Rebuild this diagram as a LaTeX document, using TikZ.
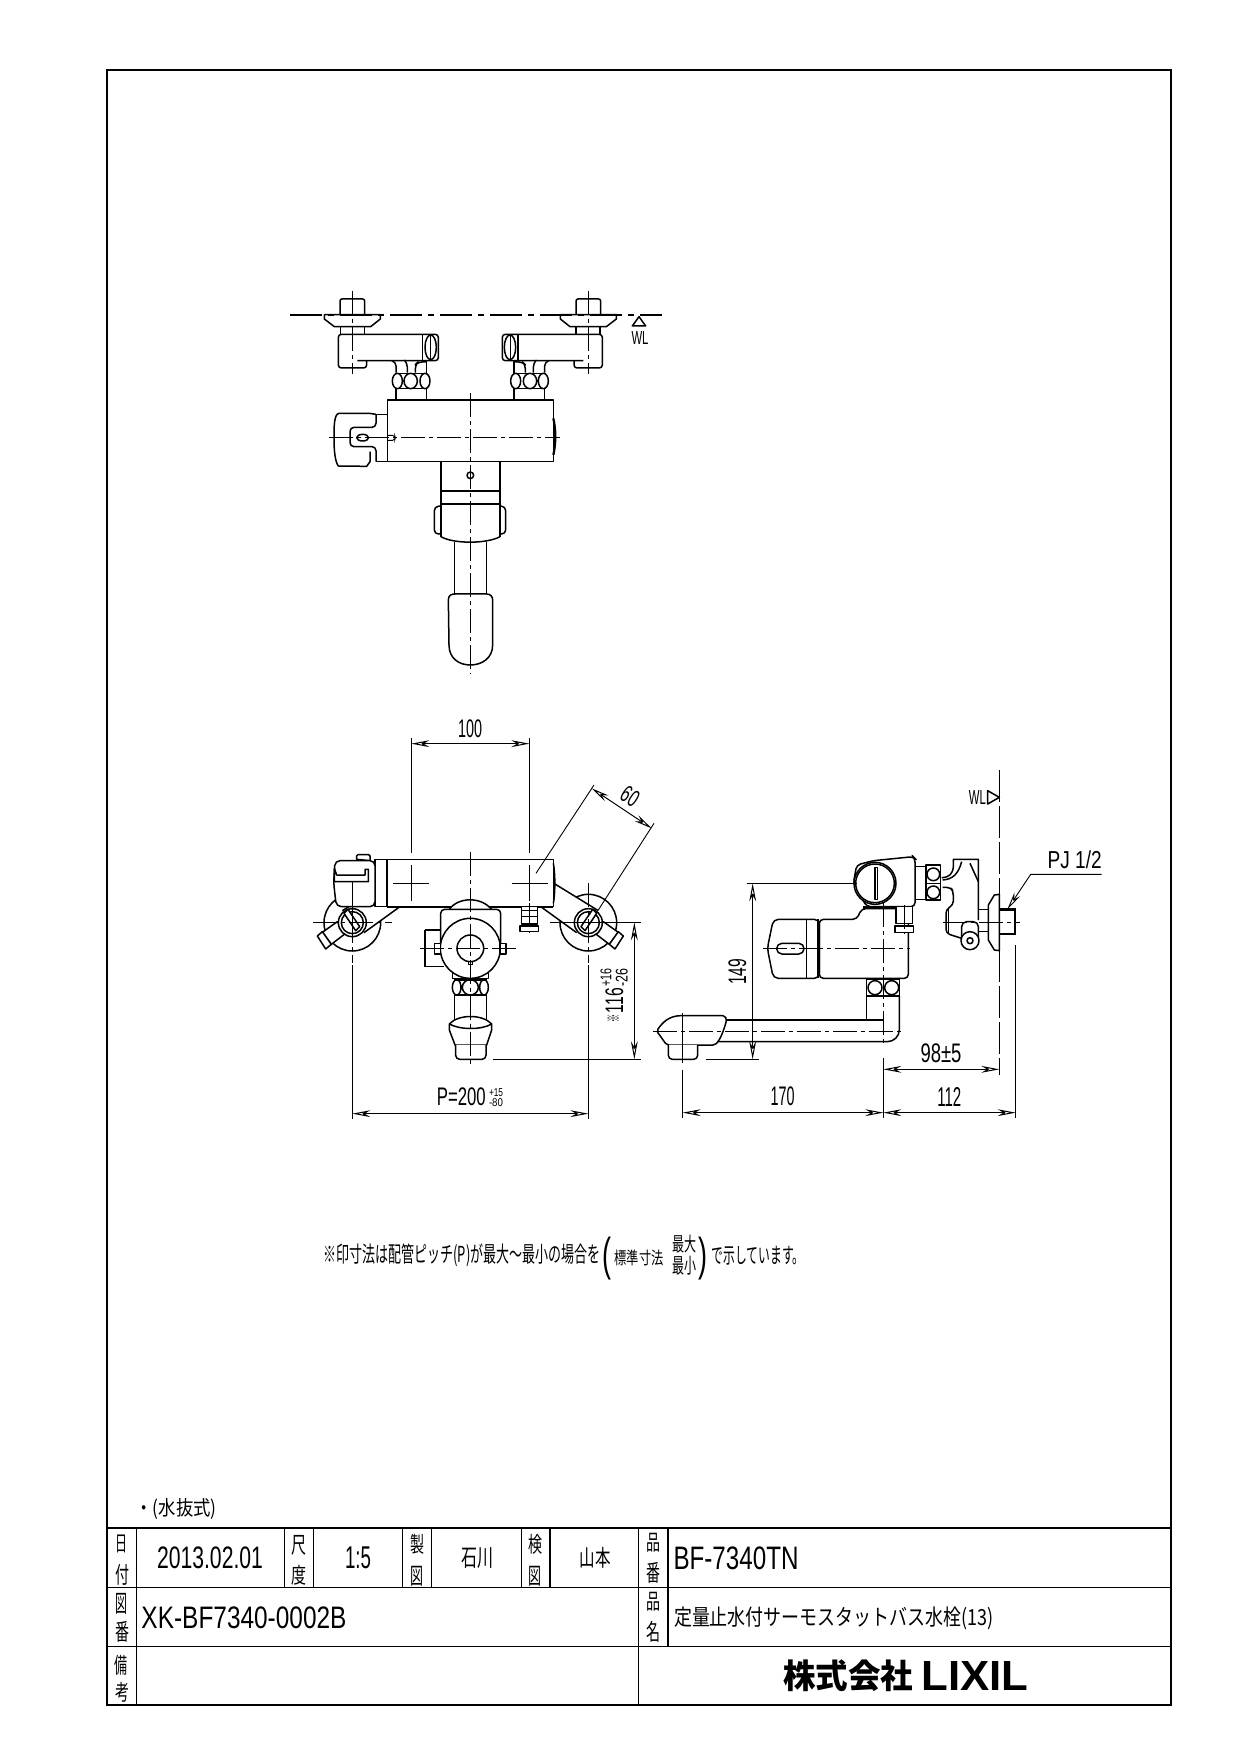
\documentclass[tikz,border=0pt]{standalone}
\usepackage{fontspec}
\setmainfont{Liberation Sans}
\newfontfamily\cjk{Noto Sans CJK JP}
\usetikzlibrary{arrows.meta}
\newlength{\pxu}
\setlength{\pxu}{.5pt}
\newcommand{\cadtext}[3]{\resizebox*{#1\pxu}{#2\pxu}{#3}}
\tikzset{
    part/.style={draw,line width=.75pt,line join=round,fill=white},
    edge line/.style={line width=.75pt,line join=round},
    frame line/.style={line width=1.1pt},
    grid line/.style={line width=.5pt},
    hair/.style={line width=.45pt},
    axis/.style={line width=.45pt,dash pattern=on 12pt off 2pt on 2pt off 2pt},
    water/.style={line width=.9pt,dash pattern=on 16pt off 3pt on 3pt off 3pt},
    dim/.style={line width=.5pt,{Stealth[open,length=9pt,width=3.4pt]}-{Stealth[open,length=9pt,width=3.4pt]}},
    label/.style={inner sep=0pt,outer sep=0pt}
}
% one arm of the top view
\newcommand{\armtop}{
    \draw[part,rounded corners=1pt] (210,134)--(210,87)--(284,87)--(284,134);
    \draw[part] (212,170) rectangle (284,193);
    \draw[part] (163,134)--(331,134)--(331,147)--(302,170)--(193,170)--(163,147)--cycle;
    \draw[edge line,rounded corners=1.5pt] (290,272)--(290,294)--(205,294)--(205,193)--(505,193)--(505,272)--(262,272);
    \draw[edge line] (458,195)--(458,272);
    \draw[edge line] (482,232) ellipse (17 and 37);
    \draw[hair] (482,195)--(482,270);
    \draw[edge line,rounded corners=2pt] (365,272)--(378,276)--(378,308);
    \draw[edge line,rounded corners=2pt] (405,272)--(412,280)--(412,308);
    \draw[edge line,rounded corners=2pt] (470,276)--(444,276)--(436,284)--(436,308);
    \draw[edge line] (470,272)--(470,308);
    \draw[edge line] (375,310)--(472,310) (375,356)--(472,356);
    \draw[edge line] (382,333) ellipse (15 and 23) (422,333) ellipse (20 and 23) (465,333) ellipse (15 and 23);
    \draw[edge line] (378,356)--(378,388) (470,356)--(470,388);
    \draw[axis] (247,62)--(247,312);
}
% one wall elbow of the front view
\newcommand{\elbowfront}{
    \draw[edge line] (895,668) circle (85);
    \path[fill=white] (790,549)--(925,630)--(860,698)--(755,622)--cycle;
    \draw[edge line] (790,549)--(925,632) (755,622)--(860,698);
    \draw[part] (940,665)--(985,697)--(958,733)--(915,700)--cycle;
    \draw[part] (985,695)--(1000,708)--(975,747)--(958,733)--cycle;
    \draw[part] (895,668) circle (42);
    \draw[edge line] (895,668) circle (33);
    \draw[part] (873,680)--(908,628)--(920,640)--(885,692)--cycle;
    \draw[axis] (895,550)--(895,790);
}
\begin{document}
\begin{tikzpicture}[x=.5pt,y=-.5pt]
\useasboundingbox (0,0) rectangle (1240,1754);
\fill[white] (0,0) rectangle (1240,1754);

% sheet and title block
\draw[frame line] (107,70) rectangle (1171,1705);
\draw[frame line] (107,1528)--(1171,1528);
\draw[grid line] (107,1587)--(1171,1587) (107,1646)--(1171,1646);
\draw[grid line] (136,1528)--(136,1705) (638,1528)--(638,1705);
\draw[grid line] (284,1528)--(284,1587) (313,1528)--(313,1587) (402,1528)--(402,1587) (431,1528)--(431,1587) (521,1528)--(521,1587);
\draw[frame line] (550,1528)--(550,1587) (668,1528)--(668,1646);

\node[label] (hi)     at (121,1544) {\cadtext{12}{18}{\cjk 日}};
\node[label] (tsuke)  at (122,1575) {\cadtext{14}{21}{\cjk 付}};
\node[label] (shaku)  at (299,1545) {\cadtext{15}{20}{\cjk 尺}};
\node[label] (do)     at (299,1575) {\cadtext{15}{20}{\cjk 度}};
\node[label] (sei)    at (417,1544) {\cadtext{14}{20}{\cjk 製}};
\node[label] (seizu)  at (417,1576) {\cadtext{13}{20}{\cjk 図}};
\node[label] (ken)    at (535,1544) {\cadtext{14}{20}{\cjk 検}};
\node[label] (kenzu)  at (535,1576) {\cadtext{13}{20}{\cjk 図}};
\node[label] (zu)     at (121,1604) {\cadtext{12}{21}{\cjk 図}};
\node[label] (ban)    at (122,1632) {\cadtext{14}{21}{\cjk 番}};
\node[label] (bi)     at (121,1665) {\cadtext{13}{20}{\cjk 備}};
\node[label] (kou)    at (122,1692) {\cadtext{14}{20}{\cjk 考}};
\node[label] (hin)    at (653,1543) {\cadtext{14}{19}{\cjk 品}};
\node[label] (hinban) at (653,1573) {\cadtext{14}{21}{\cjk 番}};
\node[label] (hin2)   at (653,1602) {\cadtext{14}{19}{\cjk 品}};
\node[label] (mei)    at (653,1632) {\cadtext{14}{21}{\cjk 名}};

\node[label] (date)   at (210,1558) {\cadtext{106}{22}{2013.02.01}};
\node[label] (scale)  at (358,1558) {\cadtext{26}{22}{1:5}};
\node[label] (drawer) at (477,1558) {\cadtext{32}{21}{\cjk 石川}};
\node[label] (checker) at (595,1558) {\cadtext{31}{21}{\cjk 山本}};
\node[label] (drawno) at (244,1618) {\cadtext{205}{22}{XK-BF7340-0002B}};
\node[label] (model)  at (736,1558) {\cadtext{125}{23}{BF-7340TN}};
\node[label] (prodname) at (834,1618) {\cadtext{320}{23}{\cjk 定量止水付サーモスタットバス水栓(13)}};
\node[label] (company) at (848,1676) {\cadtext{130}{32}{\cjk\bfseries 株式会社}};
\node[label] (brand)  at (975,1676) {\cadtext{107}{29}{\bfseries LIXIL}};
\node[label] (drain)  at (176,1509) {\cadtext{81}{21}{\cjk ・(水抜式)}};

% note
\node[label] (note a) at (462,1255) {\cadtext{277}{23}{\cjk ※印寸法は配管ピッチ(P)が最大〜最小の場合を}};
\node[label] (note lp) at (607,1259) {\cadtext{9}{43}{(}};
\node[label] (note b) at (639,1258) {\cadtext{49}{16}{\cjk 標準寸法}};
\node[label] (note max) at (684,1244) {\cadtext{24}{18}{\cjk 最大}};
\node[label] (note min) at (684,1266) {\cadtext{24}{19}{\cjk 最小}};
\node[label] (note rp) at (703,1259) {\cadtext{9}{43}{)}};
\node[label] (note c) at (758,1256) {\cadtext{93}{19}{\cjk で示しています。}};

% top view
\begin{scope}[shift={(270,270)},scale=1/3]
    \armtop
    \begin{scope}[shift={(1202,0)},xscale=-1]
        \armtop
    \end{scope}
    \draw[water] (60,134)--(1175,134);
    \draw[edge line] (1107,140)--(1127,168)--(1087,168)--cycle;
    \node[label] (wl top) at (1110,205) {\cadtext{17}{13}{WL}};
    \draw[part] (353,390) rectangle (850,575);
    \draw[frame line] (353,390)--(850,390);
    \draw[line width=1.1pt] (850,445) .. controls (858,480) and (858,520) .. (850,555);
    \draw[edge line] (318,433)--(350,433) (318,575)--(350,575);
    \draw[edge line,rounded corners=2pt] (318,433)--(318,472)--(240,472)--(240,530)--(318,530)--(318,575);
    \draw[edge line] (318,433)--(298,430)--(207,430) .. controls (192,432) and (192,470) .. (192,505) .. controls (192,540) and (195,575) .. (205,588)--(290,589)--(300,575)--(300,545);
    \draw[edge line] (278,503) ellipse (18 and 10);
    \draw[hair,rounded corners=1pt] (352,496)--(374,496)--(376,503)--(374,511)--(352,511);
    \draw[edge line] (513,575)--(513,800) (690,575)--(690,800);
    \draw[line width=1.2pt] (513,663)--(690,663);
    \draw[edge line] (513,702)--(690,702);
    \draw[edge line] (601,616) circle (10);
    \draw[edge line,rounded corners=2pt] (513,708)--(493,710)--(493,792)--(513,792);
    \draw[edge line,rounded corners=2pt] (690,708)--(707,710)--(707,792)--(690,792);
    \draw[edge line] (513,800) .. controls (550,822) and (650,822) .. (690,800);
    \draw[edge line] (553,815)--(553,975) (649,815)--(649,975);
    \draw[part] (535,990) .. controls (535,975) and (545,972) .. (555,972)--(650,972) .. controls (662,972) and (668,980) .. (668,990)--(668,1125) .. controls (668,1165) and (635,1185) .. (601,1185) .. controls (567,1185) and (537,1165) .. (537,1125)--cycle;
    \draw[axis] (178,502)--(870,502);
    \draw[axis] (601,370)--(601,1212);
\end{scope}

% front view
\begin{scope}[shift={(290,700)},scale=1/3]
    \elbowfront
    \begin{scope}[shift={(1082,0)},xscale=-1]
        \elbowfront
    \end{scope}
    \draw[axis] (70,667)--(305,667);
    \draw[hair] (780,667)--(1052,667);
    \draw[part] (255,478) rectangle (790,620);
    \draw[edge line] (790,490) .. controls (796,520) and (796,580) .. (790,610);
    \draw[part] (200,478)--(200,468)--(204,464)--(236,464)--(240,468)--(240,482)--cycle;
    \draw[part,rounded corners=2.5pt] (255,482)--(135,482)--(131,549)--(139,620)--(255,620)--cycle;
    \draw[frame line] (290,478)--(290,620);
    \draw[line width=1.1pt] (290,620)--(790,620);
    \draw[edge line] (133,505)--(140,525)--(225,525)--(225,508)--(235,508)--(235,545)--(225,545)--(140,545)--(133,545)--cycle;
    \draw[part] (478,628) .. controls (505,590) and (575,590) .. (604,628);
    \draw[part,rounded corners=2pt] (452,760)--(452,628)--(632,628)--(632,760);
    \draw[edge line] (405,690)--(451,690) (405,690)--(405,800) (405,800)--(462,800);
    \draw[part] (488,815)--(488,835)--(596,835)--(596,815);
    \draw[part] (541,745) circle (90);
    \draw[edge line] (541,745) circle (40);
    \draw[part] (433,730) rectangle (452,762);
    \draw[part] (630,730) rectangle (648,762);
    \draw[hair] (535,785) rectangle (547,793);
    \draw[edge line] (493,840)--(590,840) (493,885)--(590,885);
    \draw[edge line] (500,862) ellipse (13 and 23) (541,862) ellipse (24 and 23) (582,862) ellipse (13 and 23);
    \draw[edge line] (493,885)--(493,965) (590,885)--(590,965);
    \draw[part] (478,972) .. controls (505,942) and (578,942) .. (605,972)--(605,990)--(590,1035)--(495,1035)--(478,990)--cycle;
    \draw[edge line] (478,972) .. controls (510,990) and (575,990) .. (605,972);
    \draw[part,rounded corners=2pt] (497,1035)--(497,1078)--(588,1078)--(588,1035);
    \draw[part] (695,620) rectangle (742,672);
    \draw[edge line] (695,632)--(742,632) (695,650)--(742,650);
    \draw[part] (690,678) rectangle (745,695);
    \draw[axis] (718,610)--(718,700);
    \draw[axis] (390,745)--(690,745);
    \draw[axis] (541,455)--(541,1098);
    \draw[hair] (310,549)--(417,549) (364,495)--(364,603);
    \draw[hair] (665,549)--(773,549) (718,495)--(718,603);
    \draw[hair] (187,545)--(187,660);
    \draw[hair] (364,115)--(364,460) (718,115)--(718,460);
    \draw[dim] (364,131)--(718,131);
    \node[label] (width) at (540,85) {\cadtext{24}{18}{100}};
    \draw[hair] (738,520)--(912,255) (925,630)--(1092,370);
    \draw[dim] (905,265)--(1085,385);
    \node[label,rotate=-33] (depth) at (1020,290) {\cadtext{17}{17}{60}};
    \draw[hair] (610,1078)--(1052,1078);
    \draw[dim] (1033,667)--(1033,1078);
    \node[label,rotate=90] (star) at (970,955) {\cadtext{8}{12}{\cjk\bfseries ※}};
    \node[label,rotate=90] (height) at (973,902) {\cadtext{25}{18}{116}};
    \node[label,rotate=90] (height up) at (948,833) {\cadtext{18}{11}{+16}};
    \node[label,rotate=90] (height low) at (995,833) {\cadtext{18}{12}{-26}};
    \draw[hair] (187,795)--(187,1258) (895,795)--(895,1258);
    \draw[dim] (187,1241)--(895,1241);
    \node[label] (pitch) at (514,1190) {\cadtext{49}{18}{P=200}};
    \node[label] (pitch up) at (618,1177) {\cadtext{14}{8}{+15}};
    \node[label] (pitch low) at (618,1207) {\cadtext{14}{8}{-80}};
\end{scope}

% side view
\begin{scope}[shift={(660,750)},scale=1/3]
    \draw[edge line] (985,478)--(955,478) (955,545)--(985,545);
    \draw[line width=1.2pt] (1018,478)--(1065,478)--(1065,552)--(1018,552);
    \draw[part] (1018,433)--(1003,435)--(985,465)--(985,570)--(1003,600)--(1018,602)--cycle;
    \draw[edge line] (955,510)--(955,328)--(880,328)--(880,350) .. controls (878,372) and (868,382) .. (845,383);
    \draw[edge line] (905,335) .. controls (895,372) and (878,388) .. (848,390);
    \draw[edge line] (930,340)--(955,395);
    \draw[edge line,rounded corners=2pt] (848,412)--(872,412)--(880,425)--(880,465)--(858,478)--(858,550)--(905,565);
    \draw[edge line] (865,478)--(865,552);
    \draw[edge line,rounded corners=2.5pt] (905,570)--(905,515)--(955,515)--(955,570);
    \draw[part] (930,572) circle (27);
    \draw[edge line] (930,572) circle (9);
    \draw[axis] (850,517)--(1080,517);
    \draw[part] (798,345) rectangle (842,450);
    \draw[edge line] (798,400)--(842,400);
    \draw[edge line] (820,373) circle (19) (820,427) circle (19);
    \draw[edge line] (765,350)--(798,350) (765,448)--(798,448);
    \draw[part,rounded corners=2pt] (640,332)--(760,320)--(765,325)--(765,470)--(620,470)--(580,400)--(590,345)--cycle;
    \draw[part] (645,400) circle (63);
    \draw[edge line] (645,400) circle (58);
    \draw[edge line] (645,352) rectangle (652,448);
    \draw[part,rounded corners=2pt] (478,508)--(590,508)--(605,476)--(745,476)--(745,685)--(478,685)--cycle;
    \draw[line width=1.3pt] (610,473)--(707,473);
    \draw[part,rounded corners=2.5pt] (478,508)--(340,508)--(322,595)--(340,685)--(478,685)--cycle;
    \draw[edge line] (440,508)--(440,685) (474,508)--(474,685);
    \draw[edge line,rounded corners=2.6pt] (350,580) rectangle (432,612);
    \draw[part] (708,470) rectangle (758,520);
    \draw[part] (705,528) rectangle (760,547);
    \draw[axis] (733,465)--(733,550);
    \draw[axis] (310,595)--(750,595);
    \draw[part] (620,688) rectangle (718,738);
    \draw[edge line] (645,713) circle (21) (695,713) circle (21);
    \draw[edge line] (620,738)--(620,810);
    \draw[edge line,rounded corners=6pt] (718,738)--(718,875)--(160,875);
    \draw[edge line] (190,810)--(670,810);
    \draw[part,rounded corners=1pt] (-10,843) .. controls (15,805) and (40,797) .. (70,797)--(195,797)--(200,810) .. controls (190,845) and (180,870) .. (165,885)--(20,885)--cycle;
    \draw[part,rounded corners=2pt] (25,885)--(25,928)--(113,928)--(113,885);
    \draw[axis] (-20,843)--(730,843);
    \draw[axis] (670,460)--(670,880);
    \draw[hair] (68,790)--(68,940) (68,960)--(68,1105);
    \draw[hair] (670,925)--(670,1105);
    \draw[line width=.5pt,dash pattern=on 16pt off 2pt] (1018,60)--(1018,975);
    \draw[edge line] (983,122)--(1018,142)--(983,162)--cycle;
    \node[label] (wl side) at (952,143) {\cadtext{17}{14}{WL}};
    \draw[hair] (260,400)--(590,400) (138,928)--(297,928);
    \draw[dim] (278,400)--(278,928);
    \node[label,rotate=90] (rise) at (232,665) {\cadtext{26}{18}{149}};
    \draw[dim] (670,958)--(1018,958);
    \node[label] (reach wall) at (843,911) {\cadtext{41}{19}{98±5}};
    \draw[hair] (1067,585)--(1067,1105);
    \draw[dim] (68,1088)--(670,1088);
    \draw[dim] (670,1088)--(1067,1088);
    \node[label] (spout) at (368,1040) {\cadtext{24}{19}{170}};
    \node[label] (wall) at (868,1040) {\cadtext{24}{19}{112}};
    \draw[hair,-{Stealth[open,length=9pt,width=3.4pt]}] (1325,373)--(1112,373)--(1042,478);
    \node[label] (thread) at (1244,330) {\cadtext{54}{18}{PJ 1/2}};
\end{scope}
\end{tikzpicture}
\end{document}
